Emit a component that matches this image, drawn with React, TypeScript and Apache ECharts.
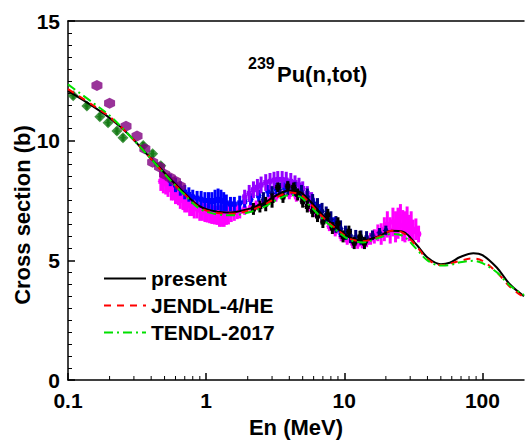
import React, { useEffect, useRef } from "react";
import * as echarts from "echarts";

// Evaluated curves (energy in MeV, cross section in b)
const evalEnergy = [0.1, 0.15, 0.2, 0.27, 0.37, 0.52, 0.68, 0.9, 1.2, 1.5, 1.9, 2.6, 3.3, 4.0, 4.8, 5.6, 7.0, 8.9, 11, 13.7, 18, 22, 26.6, 33, 40, 50, 58, 69, 86, 100, 127, 158, 200];
const presentXS = [12.08, 11.45, 10.95, 10.3, 9.45, 8.55, 7.87, 7.25, 7.03, 7.0, 7.1, 7.38, 7.75, 7.92, 7.85, 7.5, 6.88, 6.34, 5.95, 5.84, 6.02, 6.24, 6.2, 5.68, 5.12, 4.84, 4.9, 5.14, 5.3, 5.22, 4.7, 4.0, 3.5];
const jendlXS = [12.15, 11.5, 11.0, 10.3, 9.45, 8.5, 7.82, 7.2, 6.98, 6.95, 7.03, 7.3, 7.65, 7.83, 7.75, 7.4, 6.8, 6.28, 5.9, 5.8, 6.0, 6.24, 6.15, 5.62, 5.05, 4.8, 4.86, 4.98, 5.08, 4.98, 4.5, 3.9, 3.45];
const tendlXS = [12.35, 11.6, 11.05, 10.3, 9.45, 8.5, 7.8, 7.15, 6.92, 6.88, 6.96, 7.22, 7.55, 7.72, 7.65, 7.3, 6.72, 6.22, 5.85, 5.75, 5.95, 6.1, 6.02, 5.5, 5.0, 4.78, 4.8, 4.92, 4.98, 4.88, 4.5, 3.95, 3.55];

// Experimental data: [E (MeV), sigma (b), error (b)]
const expHexagon = [[0.162, 12.3], [0.2, 11.56], [0.263, 10.6], [0.316, 10.2], [0.36, 9.66], [0.41, 9.1], [0.46, 8.9], [0.5, 8.6], [0.55, 8.45], [0.6, 8.3], [0.65, 8.1]];
const expDiamond = [[0.109, 11.88, 0.15], [0.137, 11.45, 0.15], [0.17, 11.0, 0.15], [0.195, 10.75, 0.15], [0.226, 10.4, 0.15], [0.25, 10.12, 0.15], [0.35, 9.8, 0.15], [0.41, 9.45, 0.15], [0.47, 8.95, 0.15]];
const expMagenta = [[0.47, 8.3, 0.4], [0.49, 8.25, 0.45], [0.51, 8.2, 0.45], [0.53, 8.1, 0.45], [0.56, 7.95, 0.45], [0.58, 7.9, 0.4], [0.6, 7.8, 0.45], [0.63, 7.7, 0.4], [0.65, 7.6, 0.45], [0.68, 7.5, 0.4], [0.7, 7.45, 0.45], [0.73, 7.4, 0.4], [0.76, 7.3, 0.45], [0.79, 7.25, 0.4], [0.82, 7.2, 0.45], [0.86, 7.15, 0.4], [0.9, 7.1, 0.45], [0.94, 7.05, 0.4], [0.98, 7.0, 0.4], [1.02, 6.98, 0.4], [1.06, 6.95, 0.4], [1.1, 6.92, 0.4], [1.15, 6.9, 0.4], [1.2, 6.88, 0.4], [1.25, 6.85, 0.45], [1.3, 6.85, 0.45], [1.35, 6.85, 0.45], [1.4, 6.88, 0.4], [1.45, 6.9, 0.4], [1.52, 6.95, 0.35], [1.6, 7.0, 0.35], [1.68, 7.02, 0.3], [1.75, 7.05, 0.3], [1.9, 7.15, 0.25], [2.1, 7.2, 0.2], [2.3, 7.3, 0.2], [2.6, 7.45, 0.2], [2.9, 7.55, 0.2], [3.2, 7.65, 0.2], [3.6, 7.72, 0.2], [4.0, 7.75, 0.2], [4.5, 7.65, 0.2], [5.0, 7.5, 0.2], [5.6, 7.25, 0.2], [6.2, 7.0, 0.2], [7.0, 6.7, 0.2], [7.8, 6.42, 0.2], [8.6, 6.2, 0.2], [9.5, 6.0, 0.2], [10.5, 5.85, 0.2], [11.5, 5.72, 0.2], [12.5, 5.68, 0.2], [13.5, 5.7, 0.2], [14.5, 5.75, 0.2], [15.5, 5.9, 0.25], [16.5, 6.0, 0.3], [17.5, 6.15, 0.35], [18.5, 6.1, 0.45], [19.5, 6.3, 0.5], [20.5, 6.5, 0.55], [21.5, 6.25, 0.55], [22.5, 6.6, 0.6], [23.5, 6.4, 0.65], [24.5, 6.55, 0.65], [25.5, 6.8, 0.55], [26.5, 6.45, 0.65], [27.5, 6.4, 0.65], [28.5, 6.7, 0.55], [29.5, 6.35, 0.55], [30.5, 6.5, 0.55], [31.5, 6.2, 0.5], [33, 6.3, 0.45], [34.5, 6.1, 0.35]];
const expBlue = [[0.55, 8.35, 0.25], [0.6, 8.15, 0.3], [0.65, 8.0, 0.3], [0.7, 7.85, 0.3], [0.75, 7.75, 0.3], [0.8, 7.65, 0.3], [0.86, 7.6, 0.3], [0.92, 7.55, 0.35], [0.98, 7.5, 0.35], [1.04, 7.5, 0.35], [1.1, 7.45, 0.4], [1.16, 7.5, 0.45], [1.22, 7.55, 0.45], [1.28, 7.5, 0.45], [1.34, 7.45, 0.4], [1.4, 7.4, 0.35], [1.5, 7.35, 0.3], [1.6, 7.35, 0.3], [1.75, 7.4, 0.3], [1.9, 7.45, 0.25], [2.1, 7.55, 0.25], [2.4, 7.7, 0.25], [2.8, 7.9, 0.25], [3.2, 8.0, 0.25], [3.7, 8.05, 0.25], [4.2, 8.0, 0.25], [4.8, 7.85, 0.25], [5.4, 7.6, 0.25], [6.0, 7.35, 0.25], [6.7, 7.1, 0.25], [7.5, 6.85, 0.25], [8.4, 6.55, 0.25], [9.3, 6.3, 0.25], [10.3, 6.1, 0.25]];
const expViolet = [[1.9, 7.65, 0.3], [2.05, 7.8, 0.35], [2.2, 7.95, 0.35], [2.35, 8.05, 0.35], [2.5, 8.15, 0.35], [2.7, 8.25, 0.35], [2.9, 8.3, 0.35], [3.1, 8.35, 0.35], [3.3, 8.38, 0.35], [3.55, 8.38, 0.35], [3.8, 8.35, 0.35], [4.1, 8.3, 0.35], [4.4, 8.25, 0.3], [4.7, 8.15, 0.3], [5.0, 8.0, 0.3], [5.4, 7.8, 0.3], [5.8, 7.6, 0.25]];
const expNavy = [[2.6, 7.55, 0.3], [3.0, 7.8, 0.3], [3.4, 7.95, 0.3], [3.9, 8.02, 0.3], [4.4, 7.98, 0.3], [4.9, 7.85, 0.3], [5.4, 7.65, 0.35], [5.9, 7.42, 0.35], [6.4, 7.25, 0.35], [6.9, 7.05, 0.35], [7.4, 6.9, 0.35], [8.0, 6.7, 0.35], [8.7, 6.5, 0.35], [9.4, 6.32, 0.35], [10.2, 6.15, 0.3], [11.1, 6.02, 0.3], [12.1, 5.97, 0.3], [13.2, 5.95, 0.3], [14.5, 5.97, 0.25], [16, 6.05, 0.2], [18, 6.15, 0.2], [20, 6.25, 0.2]];
const expBlack = [[2.2, 7.15, 0.25], [2.45, 7.25, 0.25], [2.7, 7.35, 0.3], [3.0, 7.5, 0.3], [3.3, 8.05, 0.2], [3.6, 7.65, 0.25], [3.9, 8.1, 0.2], [4.3, 8.05, 0.2], [4.6, 7.75, 0.25], [5.0, 7.45, 0.25], [5.4, 7.25, 0.25], [5.9, 7.05, 0.25], [6.4, 6.85, 0.25], [7.0, 6.6, 0.25], [7.6, 6.9, 0.25], [8.2, 6.35, 0.25], [9.0, 6.55, 0.25], [9.8, 6.0, 0.25], [10.8, 6.2, 0.25], [11.8, 5.72, 0.25], [13, 5.98, 0.25], [14, 5.72, 0.25]];

// Axis minor tick positions (log axis)
const xMinorTicks = [0.2, 0.3, 0.4, 0.5, 0.6, 0.7, 0.8, 0.9, 2, 3, 4, 5, 6, 7, 8, 9, 20, 30, 40, 50, 60, 70, 80, 90];

const FONT = '"Liberation Sans", Arial, sans-serif';

function errSeries(data: number[][], color: string, size: number, z: number) {
  return {
    type: "custom",
    silent: true,
    z,
    encode: { x: 0, y: 1 },
    data,
    renderItem: (params: any, api: any) => {
      const x = api.value(0);
      const y = api.value(1);
      const e = api.value(2);
      const c = api.coord([x, y]);
      const lo = api.coord([x, y - e]);
      const hi = api.coord([x, y + e]);
      return {
        type: "group",
        children: [
          { type: "line", shape: { x1: c[0], y1: lo[1], x2: c[0], y2: hi[1] }, style: { stroke: color, lineWidth: 3 } },
          { type: "line", shape: { x1: c[0] - 3, y1: c[1], x2: c[0] + 3, y2: c[1] }, style: { stroke: color, lineWidth: 1 } },
          { type: "rect", shape: { x: c[0] - size / 2, y: c[1] - size / 2, width: size, height: size }, style: { fill: color } },
        ],
      };
    },
  };
}

export default function App() {
  const ref = useRef<HTMLDivElement>(null);
  useEffect(() => {
    if (!ref.current) return;
    const chart = echarts.init(ref.current, undefined, { renderer: "svg" });
    const isPow10 = (v: number) => Math.abs(Math.log10(v) - Math.round(Math.log10(v))) < 1e-6;
    const curve = (ys: number[]) => evalEnergy.map((e, i) => [e, ys[i]]);
    const option: any = {
      animation: false,
      backgroundColor: "#fff",
      grid: { left: 68, right: 1, top: 21, bottom: 60 },
      legend: {
        orient: "vertical",
        left: 103,
        top: 268,
        padding: 0,
        itemWidth: 42,
        itemHeight: 14,
        itemGap: 6,
        itemStyle: { color: "transparent", borderWidth: 0, opacity: 0 },
        data: ["present", "JENDL-4/HE", "TENDL-2017"],
        textStyle: { fontSize: 21, fontWeight: "bold", color: "#000", fontFamily: FONT, lineHeight: 21 },
      },
      xAxis: [
        {
          type: "log",
          logBase: 10,
          min: 0.1,
          max: 200,
          splitLine: { show: false },
          axisLine: { lineStyle: { color: "#000", width: 1.5 } },
          axisTick: { inside: true, length: 7, lineStyle: { color: "#000", width: 1.5 } },
          axisLabel: {
            margin: 10,
            fontSize: 21,
            fontWeight: "bold",
            color: "#000",
            fontFamily: FONT,
            showMaxLabel: false,
            formatter: (v: number) => (isPow10(v) ? String(Number(v.toPrecision(3))) : ""),
          },
          name: "En (MeV)",
          nameLocation: "middle",
          nameGap: 36,
          nameTextStyle: { fontSize: 22, fontWeight: "bold", color: "#000", fontFamily: FONT },
        },
        {
          type: "log",
          logBase: 10,
          min: 0.1,
          max: 200,
          position: "top",
          splitLine: { show: false },
          axisLine: { show: true, lineStyle: { color: "#000", width: 1.5 } },
          axisTick: { show: false },
          axisLabel: { show: false },
        },
      ],
      yAxis: {
        type: "value",
        min: 0,
        max: 15,
        interval: 5,
        splitLine: { show: false },
        axisLine: { show: true, lineStyle: { color: "#000", width: 1.5 } },
        axisTick: { show: true, inside: true, length: 7, lineStyle: { color: "#000", width: 1.5 } },
        minorTick: { show: true, splitNumber: 10, length: 4, lineStyle: { color: "#000", width: 1 } },
        axisLabel: { margin: 8, fontSize: 21, fontWeight: "bold", color: "#000", fontFamily: FONT },
      },
      graphic: [
        {
          type: "text",
          x: 22,
          y: 215,
          rotation: Math.PI / 2,
          style: { text: "Cross section (b)", font: `bold 22px ${FONT}`, fill: "#000", align: "center", verticalAlign: "middle" },
        },
        {
          type: "text",
          x: 248,
          y: 63,
          style: { text: "239", font: `bold 16px ${FONT}`, fill: "#000", align: "left", verticalAlign: "middle" },
        },
        {
          type: "text",
          x: 277,
          y: 74,
          style: { text: "Pu(n,tot)", font: `bold 22px ${FONT}`, fill: "#000", align: "left", verticalAlign: "middle" },
        },
      ],
      series: [
        {
          type: "custom",
          silent: true,
          clip: false,
          z: 10,
          encode: { x: 0, y: 1 },
          data: xMinorTicks.map((v) => [v, 0]),
          renderItem: (params: any, api: any) => {
            const p = api.coord([api.value(0), 0]);
            return { type: "line", shape: { x1: p[0], y1: p[1], x2: p[0], y2: p[1] - 4 }, style: { stroke: "#000", lineWidth: 1 } };
          },
        },
        errSeries(expMagenta, "#ff00ff", 5, 2),
        errSeries(expBlue, "#0000ff", 5, 2),
        errSeries(expViolet, "#9400ff", 5, 2),
        errSeries(expNavy, "#000080", 4, 2),
        errSeries(expBlack, "#000000", 5, 2),
        errSeries(expDiamond, "#157a15", 2, 2),
        {
          type: "scatter",
          name: "exp-diamond",
          z: 3,
          symbol: "diamond",
          symbolSize: 11,
          itemStyle: { color: "#157a15" },
          data: expDiamond.map((d) => [d[0], d[1]]),
        },
        {
          type: "scatter",
          name: "exp-hexagon",
          z: 3,
          symbol: "path://M0,-10 L8.66,-5 L8.66,5 L0,10 L-8.66,5 L-8.66,-5 Z",
          symbolSize: 11,
          itemStyle: { color: "#800080" },
          data: expHexagon,
        },
        {
          type: "line",
          name: "present",
          z: 5,
          smooth: 0.35,
          symbol: "none",
          lineStyle: { color: "#000", width: 2 },
          itemStyle: { color: "#000" },
          data: curve(presentXS),
        },
        {
          type: "line",
          name: "JENDL-4/HE",
          z: 6,
          smooth: 0.35,
          symbol: "none",
          lineStyle: { color: "#ff0000", width: 2, type: [7, 6] },
          itemStyle: { color: "#ff0000" },
          data: curve(jendlXS),
        },
        {
          type: "line",
          name: "TENDL-2017",
          z: 7,
          smooth: 0.35,
          symbol: "none",
          lineStyle: { color: "#00e000", width: 2, type: [9, 4, 2, 4] },
          itemStyle: { color: "#00e000" },
          data: curve(tendlXS),
        },
      ],
    };
    chart.setOption(option);
    return () => chart.dispose();
  }, []);
  return <div ref={ref} style={{ position: "fixed", left: 0, top: 0, width: 525, height: 443 }} />;
}
